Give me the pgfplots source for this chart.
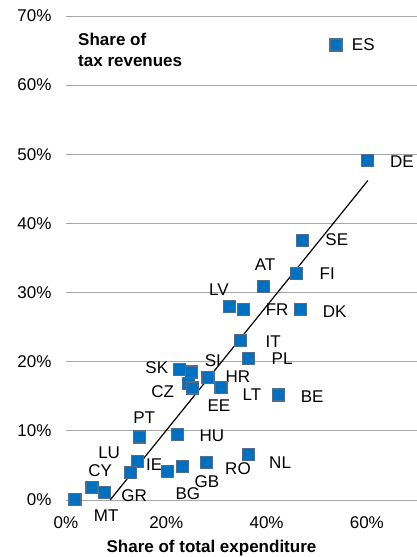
\documentclass[border=0pt]{standalone}
\usepackage{fontspec}
\setmainfont{Liberation Sans}
\usepackage{pgfplots}
\pgfplotsset{compat=1.18}
\definecolor{esblue}{HTML}{0070C0}
\definecolor{esedge}{HTML}{4F6D8F}
\definecolor{gridgray}{HTML}{A6A6A6}
\newcommand{\cf}{\fontsize{17}{21}\selectfont}

\begin{document}
\begin{tikzpicture}
\begin{axis}[
    scale only axis, width=351pt, height=484pt,
    xmin=0, xmax=70, ymin=0, ymax=70,
    clip=false,
    axis line style={draw=none},
    major tick length=0pt,
    xtick={0,20,40,60}, xticklabels={0\%,20\%,40\%,60\%},
    ytick={0,10,20,30,40,50,60,70},
    yticklabels={0\%,10\%,20\%,30\%,40\%,50\%,60\%,70\%},
    ymajorgrids, grid style={gridgray, line width=0.9pt},
    tick label style={font=\cf},
    yticklabel style={xshift=-11pt},
    xticklabel style={yshift=-13pt},
    xlabel={\textbf{Share of total expenditure}},
    xlabel style={font=\cf, xshift=-30pt, yshift=-5pt},
    legend style={draw=none, fill=none, at={(axis cs:52,65.8)}, anchor=west, font=\cf},
]
\addplot[only marks, mark=square*, mark size=6pt,
    mark options={fill=esblue, draw=esedge, line width=1.2pt}] coordinates {
    (60.2,49.1) (47.2,37.5) (46.0,32.8) (39.4,30.9) (32.6,28.0) (35.4,27.6)
    (46.8,27.5) (34.8,23.1) (36.4,20.5) (22.6,18.9) (25.0,18.5) (24.4,16.9)
    (25.3,16.2) (28.3,17.7) (30.9,16.3) (42.4,15.2) (14.6,9.1) (22.2,9.5)
    (14.2,5.6) (12.8,4.0) (20.2,4.1) (23.2,4.9) (28.1,5.4) (36.4,6.6)
    (5.2,1.8) (7.6,1.1) (1.8,0.1)
};
\addlegendentry{\hspace{8pt}ES}
\addplot[black, line width=1.2pt, forget plot] coordinates {(8.8,0) (60.2,46.2)};
\coordinate (o) at (axis cs:0,0);
\begin{scope}[every node/.style={font=\cf, inner sep=0pt}]
\node at (axis cs:67.0,48.9) {DE};
\node at (axis cs:54.0,37.6) {SE};
\node at (axis cs:52.1,32.7) {FI};
\node at (axis cs:39.7,34.1) {AT};
\node at (axis cs:30.5,30.4) {LV};
\node at (axis cs:42.1,27.5) {FR};
\node at (axis cs:53.6,27.3) {DK};
\node at (axis cs:41.3,22.9) {IT};
\node at (axis cs:43.1,20.4) {PL};
\node at (axis cs:18.1,19.2) {SK};
\node at (axis cs:29.3,20.1) {SI};
\node at (axis cs:34.3,17.9) {HR};
\node at (axis cs:19.3,15.6) {CZ};
\node at (axis cs:30.5,13.6) {EE};
\node at (axis cs:37.1,15.2) {LT};
\node at (axis cs:49.1,15.0) {BE};
\node at (axis cs:15.6,11.9) {PT};
\node at (axis cs:29.1,9.3) {HU};
\node at (axis cs:8.6,6.9) {LU};
\node at (axis cs:17.6,5.1) {IE};
\node at (axis cs:6.8,4.3) {CY};
\node at (axis cs:34.3,4.6) {RO};
\node at (axis cs:42.7,5.4) {NL};
\node at (axis cs:28.1,2.7) {GB};
\node at (axis cs:13.6,0.6) {GR};
\node at (axis cs:24.3,0.9) {BG};
\node at (axis cs:8.0,-2.3) {MT};
\node[anchor=west, align=left, font=\cf\bfseries] at (axis cs:2.4,65.1) {Share of\\tax revenues};
\end{scope}
\end{axis}
\pgfresetboundingbox
\path (o) ++(-66pt,-57pt) rectangle ++(417pt,557pt);
\end{tikzpicture}
\end{document}
